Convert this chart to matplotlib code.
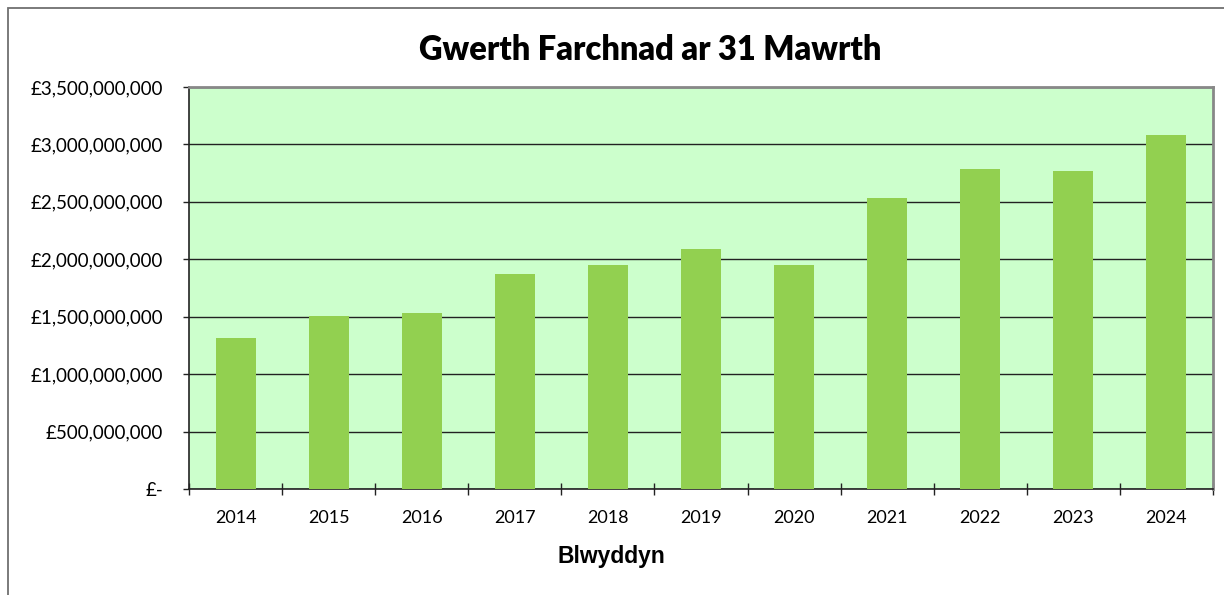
import matplotlib
matplotlib.use("Agg")
import matplotlib.pyplot as plt
from matplotlib.ticker import FuncFormatter, FixedLocator
from matplotlib.patches import Rectangle
import numpy as np

years = ["2014", "2015", "2016", "2017", "2018", "2019",
         "2020", "2021", "2022", "2023", "2024"]
values = [1.315e9, 1.507e9, 1.533e9, 1.873e9, 1.951e9, 2.090e9,
          1.951e9, 2.535e9, 2.785e9, 2.770e9, 3.081e9]

plt.rcParams['font.family'] = ['Lato', 'DejaVu Sans']

fig = plt.figure(figsize=(12.24, 5.95), dpi=100)
ax = fig.add_axes([189 / 1224, 1 - 489 / 595, 1024 / 1224, 402 / 595])

# outer chart border (cut off on right and bottom)
fig.patches.append(Rectangle((8 / 1224, -0.05), 1.1, 1 - 7.5 / 595 + 0.05,
                             transform=fig.transFigure, fill=False,
                             edgecolor='#707070', lw=1.3, zorder=0))

x = np.arange(len(years))
ax.set_facecolor('#CCFFCC')
ax.bar(x, values, width=0.43, color='#92D050', zorder=3)

ax.set_xlim(-0.5, len(years) - 0.5)
ax.set_ylim(0, 3.5e9)
ax.set_yticks(np.arange(0, 3.5e9 + 1, 5e8))
ax.yaxis.grid(True, color='#222222', lw=1, zorder=1)


def money(v, pos):
    if v == 0:
        return '£-'
    return '£{:,.0f}'.format(v)


ax.yaxis.set_major_formatter(FuncFormatter(money))
ax.set_xticks(x)
ax.set_xticklabels(years)
ax.xaxis.set_minor_locator(FixedLocator(np.arange(-0.5, len(years), 1)))
ax.tick_params(axis='x', which='major', length=0, labelsize=13, pad=15)
ax.tick_params(axis='x', which='minor', direction='inout', length=9,
               width=1, color='#222222')
ax.tick_params(axis='y', direction='out', length=4.5, width=1,
               color='#222222', labelsize=13.5, pad=14)

for s in ['left', 'bottom']:
    ax.spines[s].set_color('#222222')
    ax.spines[s].set_linewidth(1.2)
for s in ['top', 'right']:
    ax.spines[s].set_color('#888888')
    ax.spines[s].set_linewidth(2)

fig.text(650 / 1224, 1 - 50 / 595, 'Gwerth Farchnad ar 31 Mawrth',
         ha='center', va='center', fontsize=23.5, fontweight='heavy')
fig.text(611 / 1224, 1 - 557 / 595, 'Blwyddyn', ha='center', va='center',
         fontsize=16.5, fontweight='bold', family='Liberation Sans')

fig.savefig('out.png', dpi=100)
